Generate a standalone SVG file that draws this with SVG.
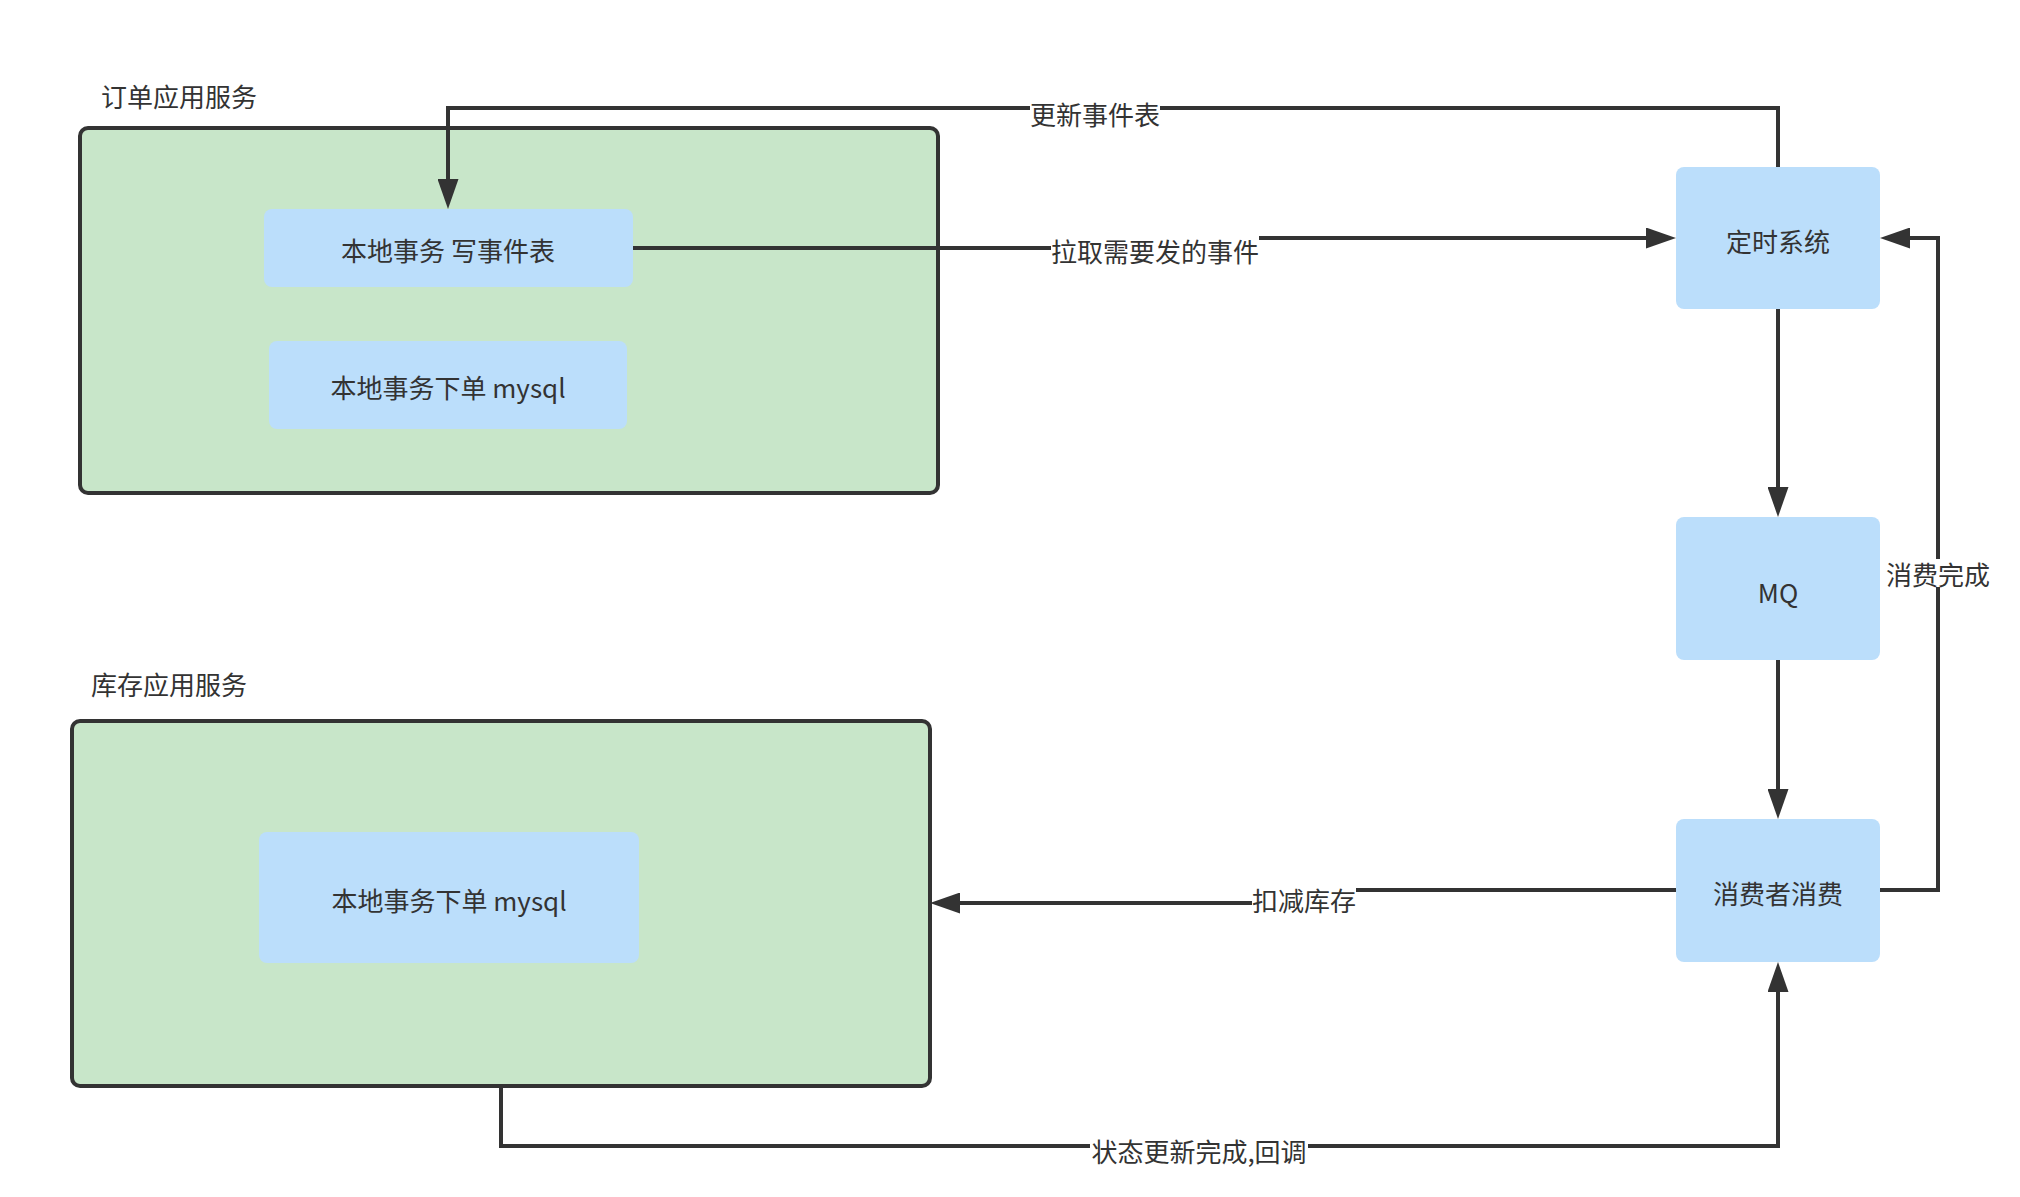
<svg xmlns="http://www.w3.org/2000/svg" width="2020" height="1197" viewBox="0 0 2020 1197">
  <style>
    .container { fill: #C8E6C9; stroke: #333333; stroke-width: 4; }
    .box { fill: #BBDEFB; stroke: none; }
    .txt { font-family: "Noto Sans CJK SC", "Noto Sans", sans-serif; font-size: 26px; fill: #333333; dominant-baseline: central; }
    .mid { text-anchor: middle; }
    .conn { fill: none; stroke: #333333; stroke-width: 4; marker-end: url(#arrow); }
    .lblbg { fill: #FFFFFF; }
  </style>
  <defs>
    <marker id="arrow" viewBox="0 0 30 21" refX="10" refY="10.5" markerWidth="30" markerHeight="21" markerUnits="userSpaceOnUse" orient="auto">
      <path d="M0,0 L30,10.5 L0,21 Z" fill="#333333"/>
    </marker>
  </defs>
  <rect width="2020" height="1197" fill="#FFFFFF"/>

  <g id="order-service">
    <text class="txt" x="101" y="95">订单应用服务</text>
    <rect class="container" x="80" y="128" width="858" height="365" rx="8"/>
  </g>
  <g id="order-event-table">
    <rect class="box" x="264" y="209" width="369" height="78" rx="8"/>
    <text class="txt mid" x="448" y="249">本地事务 写事件表</text>
  </g>
  <g id="order-mysql">
    <rect class="box" x="269" y="341" width="358" height="88" rx="8"/>
    <text class="txt mid" x="448" y="386">本地事务下单 mysql</text>
  </g>

  <g id="inventory-service">
    <text class="txt" x="91" y="683">库存应用服务</text>
    <rect class="container" x="72" y="721" width="858" height="365" rx="8"/>
  </g>
  <g id="inventory-mysql">
    <rect class="box" x="259" y="832" width="380" height="131" rx="8"/>
    <text class="txt mid" x="449" y="899">本地事务下单 mysql</text>
  </g>

  <g id="timer">
    <rect class="box" x="1676" y="167" width="204" height="142" rx="8"/>
    <text class="txt mid" x="1778" y="240">定时系统</text>
  </g>
  <g id="mq">
    <rect class="box" x="1676" y="517" width="204" height="143" rx="8"/>
    <text class="txt mid" x="1778" y="591">MQ</text>
  </g>
  <g id="consumer">
    <rect class="box" x="1676" y="819" width="204" height="143" rx="8"/>
    <text class="txt mid" x="1778" y="892">消费者消费</text>
  </g>

  <g id="connectors">
    <path class="conn" d="M1778,167 V108 H448 V189"/>
    <path class="conn" d="M633,248 H1155 V238 H1656"/>
    <path class="conn" d="M1778,309 V497"/>
    <path class="conn" d="M1778,660 V799"/>
    <path class="conn" d="M1880,890 H1938 V238 H1900"/>
    <path class="conn" d="M1676,890 H1304 V903 H950"/>
    <path class="conn" d="M501,1086 V1146 H1778 V982"/>

    <rect class="lblbg" x="1030" y="99" width="130" height="28"/>
    <text class="txt mid" x="1095" y="113">更新事件表</text>
    <rect class="lblbg" x="1051" y="234" width="208" height="30"/>
    <text class="txt mid" x="1155" y="250">拉取需要发的事件</text>
    <rect class="lblbg" x="1886" y="559" width="104" height="28"/>
    <text class="txt mid" x="1938" y="573">消费完成</text>
    <rect class="lblbg" x="1252" y="885" width="104" height="28"/>
    <text class="txt mid" x="1304" y="899">扣减库存</text>
    <rect class="lblbg" x="1090" y="1136" width="218" height="28"/>
    <text class="txt mid" x="1199" y="1150">状态更新完成,回调</text>
  </g>
</svg>
